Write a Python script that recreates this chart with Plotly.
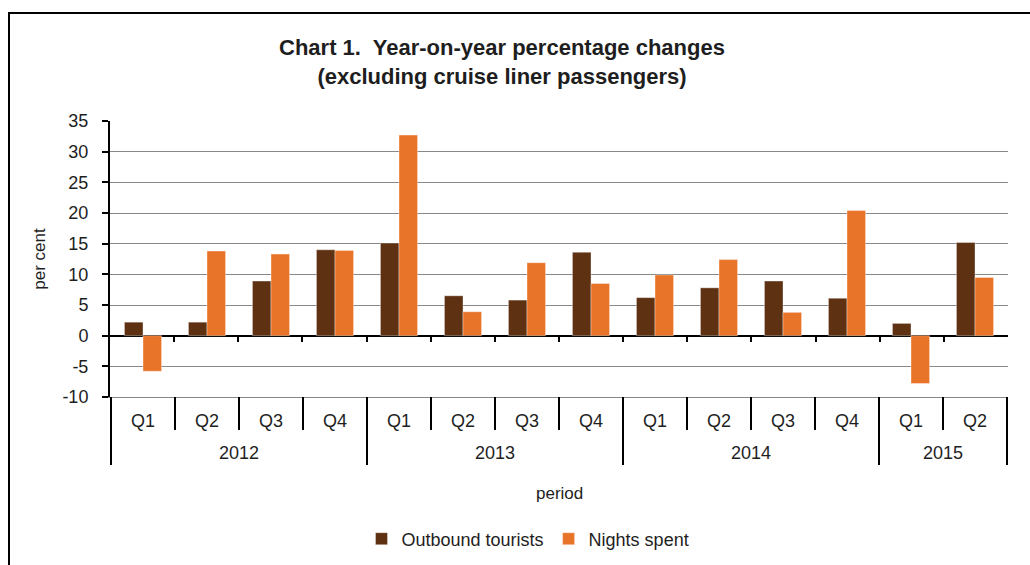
import numpy as np
import plotly.graph_objects as go

years = ["2012"] * 4 + ["2013"] * 4 + ["2014"] * 4 + ["2015"] * 2
quarters = ["Q1", "Q2", "Q3", "Q4"] * 3 + ["Q1", "Q2"]
outbound_tourists = [2.2, 2.2, 8.9, 14.0, 15.1, 6.5, 5.8, 13.6, 6.2, 7.8, 8.9, 6.1, 2.0, 15.2]
nights_spent = [-5.8, 13.8, 13.3, 13.9, 32.7, 3.9, 11.9, 8.5, 9.9, 12.4, 3.8, 20.4, -7.8, 9.5]
y_ticks = list(range(-10, 40, 5))

BROWN = "#5E3113"
ORANGE = "#E8742A"
FONT = "Liberation Sans, Arial, sans-serif"
TXT = "#1e1e1e"

W, H = 1030, 565
L, R, T, B = 110, 22, 121, 168
pw, ph = W - L - R, H - T - B

def px_x(p):
    return (p - L) / pw

def px_y(p):
    return (H - B - p) / ph

periods = [f"{y} {q}" for y, q in zip(years, quarters)]
n = len(periods)

fig = go.Figure()
fig.add_trace(go.Bar(x=periods, y=outbound_tourists, name="Outbound tourists",
                     marker=dict(color=BROWN, line=dict(color="rgba(255,255,255,0.45)", width=0.8))))
fig.add_trace(go.Bar(x=periods, y=nights_spent, name="Nights spent",
                     marker=dict(color=ORANGE, line=dict(color="rgba(255,255,255,0.45)", width=0.8))))
# helper trace to carry the small tick marks on the zero line
fig.add_trace(go.Scatter(x=[], y=[], xaxis="x2", showlegend=False, hoverinfo="skip"))

ymin, ymax = y_ticks[0], y_ticks[-1]

# category separators below the plot
shapes = []
year_bounds = [-0.5] + [i - 0.5 for i in range(1, n) if years[i] != years[i - 1]] + [n - 0.5]
for i in range(1, n):
    b = i - 0.5
    if b in year_bounds:
        continue
    shapes.append(dict(type="line", xref="x", yref="paper", x0=b, x1=b, y0=0, y1=px_y(430),
                       line=dict(color="black", width=2)))
for b in year_bounds:
    shapes.append(dict(type="line", xref="x", yref="paper", x0=b, x1=b, y0=0, y1=px_y(465),
                       line=dict(color="black", width=2)))
shapes.append(dict(type="rect", xref="paper", yref="paper",
                   x0=px_x(9), x1=px_x(1040), y0=px_y(580), y1=px_y(13),
                   line=dict(color="black", width=2), fillcolor="rgba(0,0,0,0)", layer="below"))

annotations = []
for k in range(len(year_bounds) - 1):
    a, b = year_bounds[k], year_bounds[k + 1]
    annotations.append(dict(text=years[int(a + 0.5)], xref="x", yref="paper", x=(a + b) / 2, y=px_y(453),
                            showarrow=False, xanchor="center", yanchor="middle",
                            font=dict(family=FONT, size=18, color=TXT)))
annotations.append(dict(text="period", xref="paper", yref="paper", x=0.5, y=px_y(493),
                        showarrow=False, xanchor="center", yanchor="middle",
                        font=dict(family=FONT, size=17, color=TXT)))

fig.update_layout(
    width=W, height=H,
    margin=dict(l=L, r=R, t=T, b=B, autoexpand=False),
    paper_bgcolor="white", plot_bgcolor="white",
    font=dict(family=FONT, size=18, color=TXT),
    barmode="group", bargap=0.42, bargroupgap=0,
    title=dict(text="<b>Chart 1.  Year-on-year percentage changes<br>(excluding cruise liner passengers)</b>",
               x=502 / W, xanchor="center", xref="container",
               y=1 - 55 / H, yanchor="middle", yref="container",
               font=dict(family=FONT, size=22, color=TXT)),
    xaxis=dict(type="category", tickmode="array", tickvals=periods, ticktext=quarters,
               showgrid=False, zeroline=False,
               showline=True, linecolor="#888888", linewidth=1,
               ticks="", ticklabelstandoff=7,
               tickfont=dict(family=FONT, size=18, color=TXT)),
    xaxis2=dict(overlaying="x", anchor="free", position=(0 - ymin) / (ymax - ymin), side="bottom",
                range=[-0.5, n - 0.5], tickmode="array", tickvals=list(np.arange(n - 1) + 0.5),
                ticks="outside", ticklen=5, tickwidth=2, tickcolor="black",
                showticklabels=False, showgrid=False, zeroline=False, showline=False),
    yaxis=dict(range=[ymin, ymax], tickmode="array", tickvals=y_ticks,
               ticktext=[str(v) for v in y_ticks],
               showgrid=True, gridcolor="#888888", gridwidth=1.2,
               zeroline=True, zerolinecolor="black", zerolinewidth=2,
               showline=True, linecolor="black", linewidth=2,
               ticks="outside", ticklen=6, tickwidth=2, tickcolor="black", ticklabelstandoff=10,
               tickfont=dict(family=FONT, size=18, color=TXT),
               title=dict(text="per cent", standoff=12, font=dict(family=FONT, size=17, color=TXT))),
    legend=dict(orientation="h", x=px_x(528), xanchor="center", y=px_y(539), yanchor="middle",
                font=dict(family=FONT, size=18, color=TXT), bgcolor="rgba(0,0,0,0)",
                itemwidth=30, tracegroupgap=0),
    shapes=shapes,
    annotations=annotations,
)

fig.write_html("out.html", config={"displayModeBar": False},
               post_script="document.body.style.margin='0px';")
